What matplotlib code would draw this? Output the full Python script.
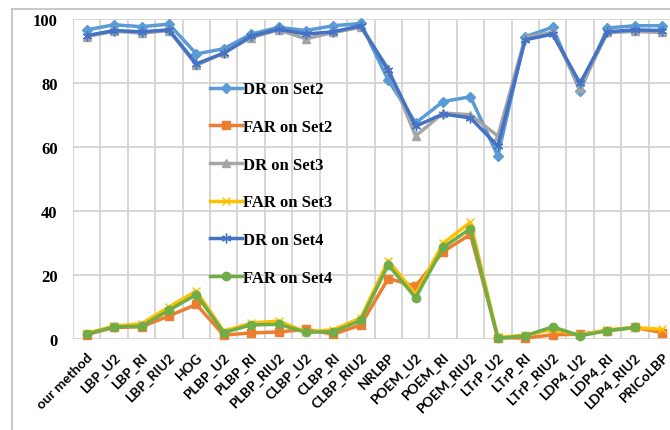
"""
    DR / FAR por método en Set2, Set3 y Set4 (gráfica de líneas estilo Excel)
"""
import numpy as np
import matplotlib
matplotlib.use('Agg')
import matplotlib.pyplot as plt
from matplotlib.lines import Line2D

# =========================================================================== #
# Datos
categorias = ['our method', 'LBP_U2', 'LBP_RI', 'LBP_RIU2', 'HOG', 'PLBP_U2',
              'PLBP_RI', 'PLBP_RIU2', 'CLBP_U2', 'CLBP_RI', 'CLBP_RIU2',
              'NRLBP', 'POEM_U2', 'POEM_RI', 'POEM_RIU2', 'LTrP_U2',
              'LTrP_RI', 'LTrP_RIU2', 'LDP4_U2', 'LDP4_RI', 'LDP4_RIU2',
              'PRICoLBP']

dr_set2 = [96.6, 98.2, 97.6, 98.4, 89.1, 90.7, 95.3, 97.4, 96.4, 97.9, 98.6,
           80.9, 67.5, 74.2, 75.7, 57.2, 94.5, 97.4, 77.5, 97.2, 97.9, 97.9]
far_set2 = [1.4, 3.6, 3.8, 7.2, 10.8, 1.2, 1.9, 2.2, 3.0, 1.5, 4.4,
            18.9, 16.5, 27.3, 32.7, 0.4, 0.3, 1.3, 1.5, 2.6, 3.6, 2.0]
dr_set3 = [94.5, 96.2, 95.6, 96.4, 85.5, 89.5, 94.2, 96.6, 93.8, 95.8, 97.4,
           84.5, 63.4, 70.6, 70.1, 63.4, 94.3, 95.8, 78.3, 95.8, 96.1, 95.8]
far_set3 = [1.8, 4.0, 4.8, 10.0, 15.0, 2.4, 5.0, 5.6, 2.2, 2.9, 6.6,
            24.5, 14.0, 29.9, 36.5, 0.5, 1.2, 3.0, 1.2, 2.9, 3.6, 3.0]
dr_set4 = [94.8, 96.4, 96.0, 96.6, 86.0, 89.3, 94.6, 96.8, 95.3, 96.0, 97.9,
           84.0, 66.5, 70.3, 69.1, 60.3, 93.5, 95.3, 79.9, 96.0, 96.6, 96.4]
far_set4 = [1.5, 3.8, 4.0, 9.0, 13.9, 2.0, 4.4, 4.6, 2.1, 2.3, 5.8,
            23.2, 12.9, 28.6, 34.5, 0.2, 1.0, 3.8, 1.0, 2.6, 3.6, np.nan]

series = [
    ('DR on Set2', dr_set2, '#5B9BD5', 'D', 5),
    ('FAR on Set2', far_set2, '#ED7D31', 's', 6),
    ('DR on Set3', dr_set3, '#A5A5A5', '^', 6),
    ('FAR on Set3', far_set3, '#FFC000', 'x', 6),
    ('DR on Set4', dr_set4, '#4472C4', (6, 2, 0), 7),
    ('FAR on Set4', far_set4, '#70AD47', 'o', 6),
]

# =========================================================================== #
fig = plt.figure(figsize=(6.7, 4.31), dpi=100)
ax = fig.add_axes([73 / 670, 91 / 431, 603 / 670, 320 / 431])

x = np.arange(len(categorias))
for nombre, vals, color, marcador, tam in series:
    ax.plot(x, vals, color=color, lw=2.5, marker=marcador, ms=tam,
            mfc=color, mec=color, mew=1.0, label=nombre, clip_on=False)

ax.set_xlim(-0.5, len(categorias) - 0.5)
ax.set_ylim(0, 100)
ax.set_yticks([0, 20, 40, 60, 80, 100])
ax.set_xticks(x)
ax.set_xticks(np.arange(-0.5, len(categorias)), minor=True)

# Rejilla estilo Excel
gris = '#D0D0D0'
ax.grid(True, axis='y', which='major', color=gris, lw=1.2)
ax.grid(True, axis='x', which='minor', color=gris, lw=1.2)
ax.set_axisbelow(True)
for s in ax.spines.values():
    s.set_visible(False)
ax.tick_params(which='both', length=0)
ax.tick_params(axis='y', pad=11)

for t in ax.get_yticklabels():
    t.set_fontfamily('Liberation Serif')
    t.set_fontweight('bold')
    t.set_fontsize(12)

ax.set_xticklabels(categorias, rotation=45, ha='right', va='top',
                   rotation_mode='anchor', fontsize=10, fontweight='bold',
                   family='Lato')
ax.tick_params(axis='x', pad=8)

leg = fig.legend(loc='center left', bbox_to_anchor=(210 / 670, 1 - 184.5 / 431),
                 frameon=False, borderpad=0, borderaxespad=0,
                 handlelength=1.9, handletextpad=0.1, labelspacing=1.3,
                 prop={'family': 'Liberation Serif', 'weight': 'bold',
                       'size': 12})

# Borde del área del gráfico
borde = '#BFBFBF'
fig.add_artist(Line2D([12 / 670, 12 / 670], [0, 1 - 10 / 431],
                      color=borde, lw=1.2))
fig.add_artist(Line2D([12 / 670, 1], [1 - 10 / 431, 1 - 10 / 431],
                      color=borde, lw=1.2))

plt.savefig('out.png', dpi=100)
